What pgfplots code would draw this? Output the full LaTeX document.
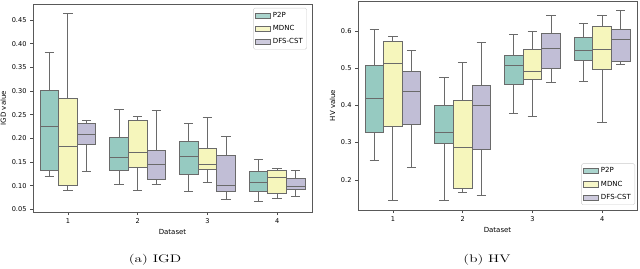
\documentclass[border=0pt]{standalone}
\usepackage{fontspec}
\usepackage{graphicx}
\usepackage{pgfplots}
\pgfplotsset{compat=1.18}
\newfontfamily\dejavu{DejaVu Sans}
\definecolor{cA}{RGB}{150,202,193}
\definecolor{cB}{RGB}{246,246,188}
\definecolor{cC}{RGB}{193,190,214}
\definecolor{edge}{RGB}{106,106,106}
\pgfplotsset{
  myaxis/.style={
    scale only axis,
    anchor=south west,
    width=279pt,
    xmin=0.5, xmax=4.5,
    xtick={1,2,3,4},
    xticklabels={1,2,3,4},
    tick align=outside,
    xtick pos=bottom, ytick pos=left,
    major tick length=3pt,
    every tick/.style={black!70, line width=0.6pt},
    axis line style={black!65, line width=0.7pt},
    /pgf/number format/assume math mode=true,
    tick label style={font=\dejavu\fontsize{6.6}{7.5}\selectfont},
    label style={font=\dejavu\fontsize{7}{8}\selectfont},
    xlabel={Dataset},
    xlabel style={yshift=1pt},
    ylabel style={yshift=-1pt},
    legend image code/.code={\draw[#1, sharp corners, draw=edge, line width=0.6pt] (0pt,-2.6pt) rectangle (15pt,2.6pt);},
    legend style={font=\dejavu\fontsize{7}{8}\selectfont, draw=black!20, rounded corners=1.5pt,
      fill=white, fill opacity=0.8, text opacity=1, inner sep=2pt, row sep=2.5pt,
      cells={anchor=west}},
  },
  bxline/.style={draw=edge, line width=0.85pt, forget plot, mark=none},
}
% \bx{center}{colour}{lower whisker}{lower quartile}{median}{upper quartile}{upper whisker}
\newcommand\bx[7]{%
  \pgfmathsetmacro\xl{#1-0.1335}\pgfmathsetmacro\xr{#1+0.1335}%
  \pgfmathsetmacro\cl{#1-0.067}\pgfmathsetmacro\cright{#1+0.067}%
  \addplot[bxline] coordinates {(#1,#3) (#1,#4)};
  \addplot[bxline] coordinates {(#1,#6) (#1,#7)};
  \addplot[bxline] coordinates {(\cl,#3) (\cright,#3)};
  \addplot[bxline] coordinates {(\cl,#7) (\cright,#7)};
  \addplot[bxline, fill=#2] coordinates {(\xl,#4) (\xr,#4) (\xr,#6) (\xl,#6)} --cycle;
  \addplot[bxline] coordinates {(\xl,#5) (\xr,#5)};
}
\begin{document}
\begin{tikzpicture}
\path[use as bounding box] (0pt,0pt) rectangle (640pt,268pt);
% ---------------- IGD ----------------
\begin{axis}[myaxis, at={(33pt,56pt)}, height=208pt,
  ymin=0.0443, ymax=0.4838,
  ytick={0.05,0.10,0.15,0.20,0.25,0.30,0.35,0.40,0.45},
  yticklabel style={/pgf/number format/.cd, fixed, fixed zerofill, precision=2},
  ylabel={IGD value},
  legend style={at={(rel axis cs:0.982,0.981)}, anchor=north east},
]
\addlegendimage{fill=cA}\addlegendentry{P2P}
\addlegendimage{fill=cB}\addlegendentry{MDNC}
\addlegendimage{fill=cC}\addlegendentry{DFS-CST}
% Dataset 1
\bx{0.733}{cA}{0.120}{0.132}{0.225}{0.302}{0.382}
\bx{1.000}{cB}{0.090}{0.100}{0.182}{0.284}{0.463}
\bx{1.267}{cC}{0.129}{0.188}{0.208}{0.232}{0.237}
% Dataset 2
\bx{1.733}{cA}{0.1035}{0.133}{0.159}{0.201}{0.262}
\bx{2.000}{cB}{0.090}{0.138}{0.170}{0.237}{0.246}
\bx{2.267}{cC}{0.102}{0.114}{0.144}{0.174}{0.258}
% Dataset 3
\bx{2.733}{cA}{0.087}{0.123}{0.161}{0.194}{0.232}
\bx{3.000}{cB}{0.106}{0.134}{0.145}{0.178}{0.244}
\bx{3.267}{cC}{0.071}{0.087}{0.101}{0.163}{0.205}
% Dataset 4
\bx{3.733}{cA}{0.067}{0.087}{0.106}{0.131}{0.155}
\bx{4.000}{cB}{0.074}{0.083}{0.117}{0.133}{0.137}
\bx{4.267}{cC}{0.078}{0.092}{0.098}{0.115}{0.133}
\end{axis}
% ---------------- HV ----------------
\begin{axis}[myaxis, at={(358pt,58pt)}, height=209pt,
  ymin=0.119, ymax=0.680,
  ytick={0.2,0.3,0.4,0.5,0.6},
  yticklabel style={/pgf/number format/.cd, fixed, fixed zerofill, precision=1},
  ylabel={HV value},
  legend style={at={(rel axis cs:0.993,0.024)}, anchor=south east},
]
\addlegendimage{fill=cA}\addlegendentry{P2P}
\addlegendimage{fill=cB}\addlegendentry{MDNC}
\addlegendimage{fill=cC}\addlegendentry{DFS-CST}
% Dataset 1
\bx{0.733}{cA}{0.251}{0.328}{0.419}{0.506}{0.603}
\bx{1.000}{cB}{0.146}{0.344}{0.513}{0.571}{0.584}
\bx{1.267}{cC}{0.233}{0.349}{0.438}{0.491}{0.546}
% Dataset 2
\bx{1.733}{cA}{0.144}{0.297}{0.328}{0.401}{0.476}
\bx{2.000}{cB}{0.167}{0.178}{0.286}{0.414}{0.514}
\bx{2.267}{cC}{0.157}{0.281}{0.399}{0.454}{0.570}
% Dataset 3
\bx{2.733}{cA}{0.379}{0.455}{0.507}{0.534}{0.589}
\bx{3.000}{cB}{0.369}{0.470}{0.492}{0.551}{0.597}
\bx{3.267}{cC}{0.461}{0.500}{0.553}{0.594}{0.640}
% Dataset 4
\bx{3.733}{cA}{0.464}{0.521}{0.547}{0.581}{0.619}
\bx{4.000}{cB}{0.353}{0.495}{0.551}{0.613}{0.640}
\bx{4.267}{cC}{0.511}{0.518}{0.577}{0.605}{0.655}
\end{axis}
\node[font=\fontsize{11}{13}\selectfont, inner sep=0pt] at (155pt,8pt) {\scalebox{1.38}[1]{(a) IGD}};
\node[font=\fontsize{11}{13}\selectfont, inner sep=0pt] at (487pt,8pt) {\scalebox{1.38}[1]{(b) HV}};
\end{tikzpicture}
\end{document}
